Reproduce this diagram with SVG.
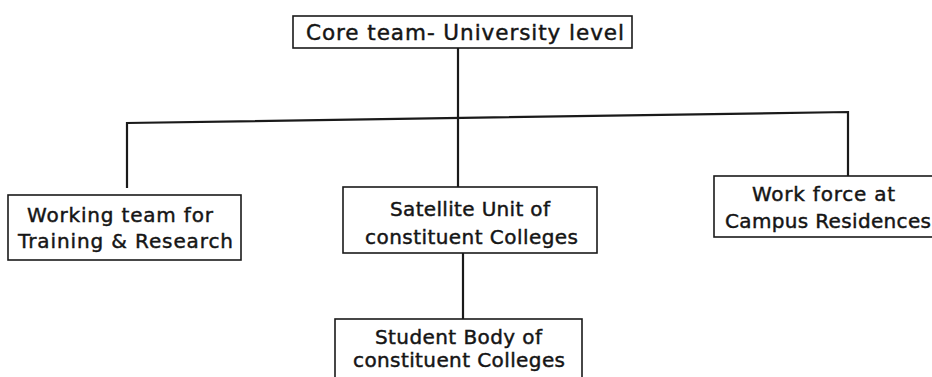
<svg xmlns="http://www.w3.org/2000/svg" width="932" height="377" viewBox="0 0 932 377">
<style>
.box{fill:#fff;stroke:#1a1a1a;stroke-width:1.6}
.t{font-family:"DejaVu Sans","Liberation Sans",sans-serif;fill:#151515;stroke:#151515;stroke-width:0.45;text-anchor:start;font-size:20px}
.c{fill:none;stroke:#1a1a1a;stroke-width:2.2}
</style>
<rect width="932" height="377" fill="#fff"/>
<g id="connectors">
<line class="c" x1="458" y1="48" x2="458" y2="187"/>
<polyline class="c" points="127,188 127,123 848,112 848,176"/>
<line class="c" x1="463" y1="253" x2="463" y2="319"/>
</g>
<g id="core">
<rect class="box" x="293" y="16" width="339" height="32"/>
<text class="t" x="306" y="40" style="font-size:21.5px" textLength="318">Core team- University level</text>
</g>
<g id="working">
<rect class="box" x="8" y="195" width="233" height="65"/>
<text class="t" x="27" y="222" textLength="186">Working team for</text>
<text class="t" x="18" y="248" textLength="215">Training &amp; Research</text>
</g>
<g id="satellite">
<rect class="box" x="343" y="187" width="254" height="66"/>
<text class="t" x="390" y="216" textLength="160">Satellite Unit of</text>
<text class="t" x="365" y="244" textLength="213">constituent Colleges</text>
</g>
<g id="workforce">
<rect class="box" x="714" y="176" width="222" height="61"/>
<text class="t" x="752" y="201" textLength="143">Work force at</text>
<text class="t" x="725" y="228" textLength="206">Campus Residences</text>
</g>
<g id="student">
<rect class="box" x="335" y="319" width="247" height="62"/>
<text class="t" x="375" y="344" textLength="167">Student Body of</text>
<text class="t" x="353" y="367" textLength="212">constituent Colleges</text>
</g>
</svg>
